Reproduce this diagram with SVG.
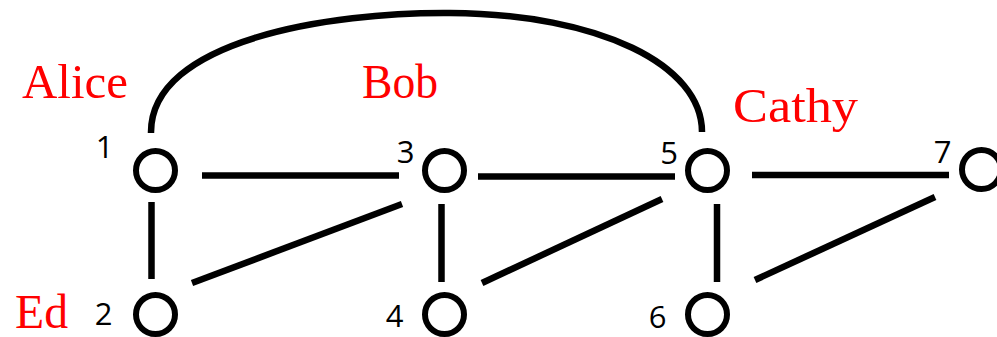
<svg xmlns="http://www.w3.org/2000/svg" width="997" height="337" viewBox="0 0 997 337">
<style>
.node{fill:none;stroke:#000;stroke-width:6}
.edge{fill:none;stroke:#000;stroke-width:6.5}
.num{font-family:"Open Sans","Liberation Sans",Arial,sans-serif;font-size:31px;fill:#000;text-anchor:middle}
.name{font-family:"Liberation Serif","Times New Roman",serif;font-size:48px;fill:#ff0000}
</style>
<rect width="997" height="337" fill="#fff"/>
<g id="connectors">
<path class="edge" d="M151,133 C150,40 330,12 450,13 C600,14 702,65 702,132"/>
<line class="edge" x1="202" y1="175.5" x2="399" y2="175.5"/>
<line class="edge" x1="478" y1="176.5" x2="675" y2="176.5"/>
<line class="edge" x1="752" y1="175" x2="949" y2="175"/>
<line class="edge" x1="151.5" y1="202" x2="151.5" y2="279"/>
<line class="edge" x1="441.5" y1="204" x2="441.5" y2="282"/>
<line class="edge" x1="717" y1="204" x2="717" y2="282"/>
<line class="edge" x1="192" y1="283" x2="402" y2="204"/>
<line class="edge" x1="482" y1="283" x2="662" y2="199"/>
<line class="edge" x1="755" y1="280" x2="935" y2="197"/>
</g>
<g id="node1"><circle class="node" cx="155.5" cy="170.5" r="19.5"/><text class="num" x="104.5" y="158">1</text><text class="name" x="22" y="98" textLength="106" lengthAdjust="spacingAndGlyphs">Alice</text></g>
<g id="node2"><circle class="node" cx="155.5" cy="314.5" r="19.5"/><text class="num" x="103.5" y="325">2</text><text class="name" x="15" y="328" textLength="53" lengthAdjust="spacingAndGlyphs">Ed</text></g>
<g id="node3"><circle class="node" cx="444.5" cy="170.5" r="19.5"/><text class="num" x="405.5" y="163">3</text><text class="name" x="362" y="98" textLength="76" lengthAdjust="spacingAndGlyphs">Bob</text></g>
<g id="node4"><circle class="node" cx="444.5" cy="314.5" r="19.5"/><text class="num" x="394.5" y="327">4</text></g>
<g id="node5"><circle class="node" cx="707.5" cy="170.5" r="19.5"/><text class="num" x="669" y="164">5</text><text class="name" x="733" y="122" textLength="125" lengthAdjust="spacingAndGlyphs">Cathy</text></g>
<g id="node6"><circle class="node" cx="707.5" cy="314.5" r="19.5"/><text class="num" x="657.5" y="328">6</text></g>
<g id="node7"><circle class="node" cx="981.5" cy="169.5" r="19.5"/><text class="num" x="942.5" y="163">7</text></g>
</svg>
